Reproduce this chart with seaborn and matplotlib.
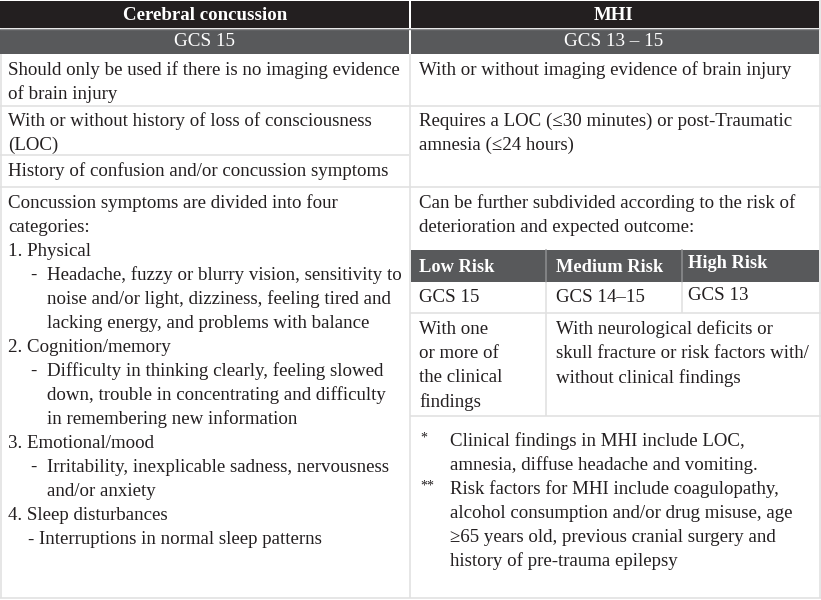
import matplotlib
matplotlib.use("Agg")
from matplotlib import pyplot as plt
from matplotlib.patches import Rectangle
import seaborn as sns

# Table content
header_titles = ["Cerebral concussion", "MHI"]
header_gcs = ["GCS 15", "GCS 13 \u2013 15"]

left_row1 = ["Should only be used if there is no imaging evidence", "of brain injury"]
right_row1 = ["With or without imaging evidence of brain injury"]
left_row2 = ["With or without history of loss of consciousness", "(LOC)"]
left_row2b = ["History of confusion and/or concussion symptoms"]
right_row2 = ["Requires a LOC (\u226430 minutes) or post-Traumatic", "amnesia (\u226424 hours)"]

# (level, text): 0 = plain, 1 = dash item, 2 = continuation, 3 = tight dash item
left_symptoms = [
    (0, "Concussion symptoms are divided into four"),
    (0, "categories:"),
    (0, "1. Physical"),
    (1, "Headache, fuzzy or blurry vision, sensitivity to"),
    (2, "noise and/or light, dizziness, feeling tired and"),
    (2, "lacking energy, and problems with balance"),
    (0, "2. Cognition/memory"),
    (1, "Difficulty in thinking clearly, feeling slowed"),
    (2, "down, trouble in concentrating and difficulty"),
    (2, "in remembering new information"),
    (0, "3. Emotional/mood"),
    (1, "Irritability, inexplicable sadness, nervousness"),
    (2, "and/or anxiety"),
    (0, "4. Sleep disturbances"),
    (3, "- Interruptions in normal sleep patterns"),
]
right_intro = ["Can be further subdivided according to the risk of",
               "deterioration and expected outcome:"]

risk_levels = ["Low Risk", "Medium Risk", "High Risk"]
risk_gcs = ["GCS 15", "GCS 14\u201315", "GCS 13"]
low_risk_text = ["With one", "or more of", "the clinical", "findings"]
high_risk_text = ["With neurological deficits or",
                  "skull fracture or risk factors with/",
                  "without clinical findings"]

footnote_marks = ["*", "**"]
footnotes = [
    ["Clinical findings in MHI include LOC,", "amnesia, diffuse headache and vomiting."],
    ["Risk factors for MHI include coagulopathy,",
     "alcohol consumption and/or drug misuse, age",
     "\u226565 years old, previous cranial surgery and",
     "history of pre-trauma epilepsy"],
]

BLACK = "#231f20"
GRAY = "#58595b"
LINE = "#e1e1e1"
TXT = "#231f20"

sns.set_theme(style="white")
plt.rcParams["font.family"] = ["Liberation Serif", "DejaVu Serif"]

fig = plt.figure(figsize=(8.21, 6.00), dpi=100)
ax = fig.add_axes([0, 0, 1, 1])
ax.set_xlim(0, 821)
ax.set_ylim(600, 0)
ax.axis("off")

FS = 13.6
LH = 24


def lines(x, y0, texts, step=LH):
    for i, t in enumerate(texts):
        ax.text(x, y0 + i * step, t, fontsize=FS, color=TXT, va="center", ha="left")


def hline(y, x0, x1):
    ax.plot([x0, x1], [y, y], color=LINE, lw=1.2, solid_capstyle="butt")


def vline(x, y0, y1, c=LINE):
    ax.plot([x, x], [y0, y1], color=c, lw=1.2, solid_capstyle="butt")


# header rows
ax.add_patch(Rectangle((0, 1), 409, 27, color=BLACK, lw=0))
ax.add_patch(Rectangle((410.5, 1), 408.5, 27, color=BLACK, lw=0))
ax.add_patch(Rectangle((0, 29), 409, 25, color=GRAY, lw=0))
ax.add_patch(Rectangle((410.5, 29), 408.5, 25, color=GRAY, lw=0))
ax.plot([0, 819], [28.5, 28.5], color="#8a8b8d", lw=1)
for cx, t in zip([205, 614], header_titles):
    ax.text(cx, 15, t, fontsize=13.6, fontweight="bold", color="white",
            ha="center", va="center")
for cx, t in zip([205, 614], header_gcs):
    ax.text(cx, 42, t, fontsize=13.8, color="white", ha="center", va="center")

# grid lines
hline(106, 0, 821)
hline(155, 0, 409)
hline(187, 0, 821)
hline(598, 0, 821)
vline(409.5, 54, 598)
vline(820, 0, 598)
vline(0.5, 54, 598)

# rows 1-2
lines(8, 70, left_row1)
lines(419, 70, right_row1)
lines(8, 121, left_row2)
lines(8, 171, left_row2b)
lines(419, 121, right_row2)

# symptom list
indent_x = [8, 24, 47, 28]
for i, (lvl, t) in enumerate(left_symptoms):
    y = 203 + i * LH
    if lvl == 1:
        ax.text(30, y, "-", fontsize=FS, color=TXT, va="center", ha="left")
        ax.text(47, y, t, fontsize=FS, color=TXT, va="center", ha="left")
    else:
        ax.text(indent_x[lvl], y, t, fontsize=FS, color=TXT, va="center", ha="left")

lines(419, 203, right_intro)

# risk sub-table
ax.add_patch(Rectangle((410.5, 250), 408.5, 32, color=GRAY, lw=0))
ax.plot([546, 546], [250, 282], color="#8a8b8d", lw=1.2)
ax.plot([682, 682], [250, 282], color="#8a8b8d", lw=1.2)
for x, t in zip([419, 556, 688], risk_levels):
    ax.text(x, 267 if t != "High Risk" else 264, t, fontsize=13.2,
            fontweight="bold", color="white", va="center", ha="left")
for x, t in zip([419, 556, 688], risk_gcs):
    ax.text(x, 298 if t != "GCS 13" else 295, t, fontsize=FS, color=TXT,
            va="center", ha="left")
vline(546, 282, 416)
vline(682, 282, 313)
hline(313, 410, 821)
hline(416, 410, 821)
for i, t in enumerate(low_risk_text):
    ax.text(419, 329 + i * 24.5, t, fontsize=FS, color=TXT, va="center", ha="left")
for i, t in enumerate(high_risk_text):
    ax.text(556, 329 + i * 24.5, t, fontsize=FS, color=TXT, va="center", ha="left")

# footnotes
y = 441
for mark, note in zip(footnote_marks, footnotes):
    ax.text(420, y - 3, mark, fontsize=10, color=TXT, va="center", ha="left")
    for t in note:
        ax.text(450, y, t, fontsize=FS, color=TXT, va="center", ha="left")
        y += LH

fig.savefig("out.png", dpi=100)
